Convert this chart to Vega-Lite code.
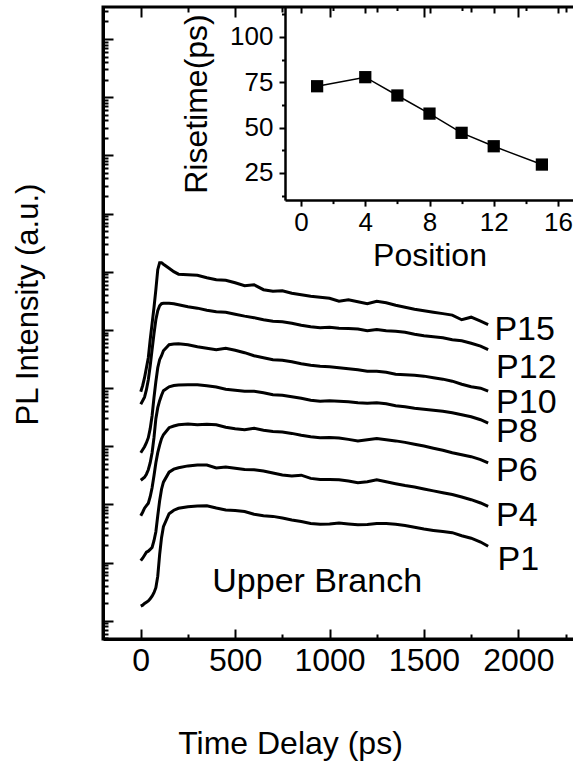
{
  "$schema": "https://vega.github.io/schema/vega-lite/v6.json",
  "width": 472,
  "height": 632,
  "autosize": {"type": "none"},
  "padding": {"left": 103, "top": 7, "right": 0, "bottom": 128},
  "background": "white",
  "config": {
    "view": {"stroke": "black", "strokeWidth": 3},
    "font": "Liberation Sans",
    "axis": {"grid": false, "domainColor": "black", "domainWidth": 3, "tickColor": "black", "tickWidth": 2, "labelColor": "black", "titleColor": "black", "labelFont": "Liberation Sans", "titleFont": "Liberation Sans", "titleFontWeight": "normal", "labelFlush": false, "labelOverlap": false}
  },
  "datasets": {
    "curves": [
      {"curve":"P15","time":0,"intensity":8650},{"curve":"P15","time":10,"intensity":10960},{"curve":"P15","time":20,"intensity":15040},{"curve":"P15","time":30,"intensity":22350},{"curve":"P15","time":40,"intensity":33200},{"curve":"P15","time":50,"intensity":67700},{"curve":"P15","time":60,"intensity":127600},{"curve":"P15","time":70,"intensity":240300},{"curve":"P15","time":80,"intensity":490000},{"curve":"P15","time":90,"intensity":1082000},{"curve":"P15","time":100,"intensity":1427000},{"curve":"P15","time":110,"intensity":1427000},{"curve":"P15","time":120,"intensity":1345000},{"curve":"P15","time":150,"intensity":1148000},{"curve":"P15","time":175,"intensity":999000},{"curve":"P15","time":200,"intensity":905000},{"curve":"P15","time":250,"intensity":887000},{"curve":"P15","time":300,"intensity":870000},{"curve":"P15","time":350,"intensity":788000},{"curve":"P15","time":400,"intensity":728000},{"curve":"P15","time":450,"intensity":714000},{"curve":"P15","time":500,"intensity":646000},{"curve":"P15","time":550,"intensity":574000},{"curve":"P15","time":600,"intensity":597000},{"curve":"P15","time":650,"intensity":490000},{"curve":"P15","time":700,"intensity":462000},{"curve":"P15","time":750,"intensity":471000},{"curve":"P15","time":800,"intensity":427000},{"curve":"P15","time":850,"intensity":402000},{"curve":"P15","time":900,"intensity":379000},{"curve":"P15","time":950,"intensity":364000},{"curve":"P15","time":1000,"intensity":350000},{"curve":"P15","time":1050,"intensity":311000},{"curve":"P15","time":1100,"intensity":330000},{"curve":"P15","time":1150,"intensity":305000},{"curve":"P15","time":1200,"intensity":282000},{"curve":"P15","time":1250,"intensity":311000},{"curve":"P15","time":1300,"intensity":293000},{"curve":"P15","time":1350,"intensity":265000},{"curve":"P15","time":1400,"intensity":245000},{"curve":"P15","time":1450,"intensity":226000},{"curve":"P15","time":1500,"intensity":213000},{"curve":"P15","time":1550,"intensity":201000},{"curve":"P15","time":1600,"intensity":190000},{"curve":"P15","time":1650,"intensity":179000},{"curve":"P15","time":1700,"intensity":149000},{"curve":"P15","time":1750,"intensity":165000},{"curve":"P15","time":1800,"intensity":141000},{"curve":"P15","time":1840,"intensity":123000},
      {"curve":"P12","time":0,"intensity":5270},{"curve":"P12","time":10,"intensity":6050},{"curve":"P12","time":20,"intensity":6950},{"curve":"P12","time":30,"intensity":9360},{"curve":"P12","time":40,"intensity":13900},{"curve":"P12","time":50,"intensity":24200},{"curve":"P12","time":60,"intensity":45600},{"curve":"P12","time":70,"intensity":85800},{"curve":"P12","time":80,"intensity":149400},{"curve":"P12","time":90,"intensity":213400},{"curve":"P12","time":100,"intensity":260000},{"curve":"P12","time":110,"intensity":281500},{"curve":"P12","time":120,"intensity":287000},{"curve":"P12","time":150,"intensity":287000},{"curve":"P12","time":175,"intensity":281500},{"curve":"P12","time":200,"intensity":271000},{"curve":"P12","time":250,"intensity":250000},{"curve":"P12","time":300,"intensity":236000},{"curve":"P12","time":350,"intensity":218000},{"curve":"P12","time":400,"intensity":205000},{"curve":"P12","time":450,"intensity":201000},{"curve":"P12","time":500,"intensity":186000},{"curve":"P12","time":550,"intensity":172000},{"curve":"P12","time":600,"intensity":162000},{"curve":"P12","time":650,"intensity":149400},{"curve":"P12","time":700,"intensity":141000},{"curve":"P12","time":750,"intensity":138000},{"curve":"P12","time":800,"intensity":130000},{"curve":"P12","time":850,"intensity":120000},{"curve":"P12","time":900,"intensity":113000},{"curve":"P12","time":950,"intensity":109000},{"curve":"P12","time":1000,"intensity":111000},{"curve":"P12","time":1050,"intensity":107000},{"curve":"P12","time":1100,"intensity":105000},{"curve":"P12","time":1150,"intensity":103000},{"curve":"P12","time":1200,"intensity":96700},{"curve":"P12","time":1250,"intensity":101000},{"curve":"P12","time":1300,"intensity":96700},{"curve":"P12","time":1350,"intensity":94800},{"curve":"P12","time":1400,"intensity":91100},{"curve":"P12","time":1450,"intensity":84200},{"curve":"P12","time":1500,"intensity":79300},{"curve":"P12","time":1550,"intensity":76200},{"curve":"P12","time":1600,"intensity":73300},{"curve":"P12","time":1650,"intensity":67700},{"curve":"P12","time":1700,"intensity":65100},{"curve":"P12","time":1750,"intensity":58900},{"curve":"P12","time":1800,"intensity":52400},{"curve":"P12","time":1840,"intensity":45600},
      {"curve":"P10","time":0,"intensity":773},{"curve":"P10","time":10,"intensity":870},{"curve":"P10","time":20,"intensity":980},{"curve":"P10","time":30,"intensity":1148},{"curve":"P10","time":40,"intensity":1400},{"curve":"P10","time":50,"intensity":2000},{"curve":"P10","time":60,"intensity":3340},{"curve":"P10","time":70,"intensity":6820},{"curve":"P10","time":80,"intensity":12840},{"curve":"P10","time":90,"intensity":22350},{"curve":"P10","time":100,"intensity":30700},{"curve":"P10","time":110,"intensity":35900},{"curve":"P10","time":120,"intensity":43800},{"curve":"P10","time":150,"intensity":55600},{"curve":"P10","time":175,"intensity":57100},{"curve":"P10","time":200,"intensity":57800},{"curve":"P10","time":250,"intensity":55600},{"curve":"P10","time":300,"intensity":51300},{"curve":"P10","time":350,"intensity":48400},{"curve":"P10","time":400,"intensity":45600},{"curve":"P10","time":450,"intensity":48400},{"curve":"P10","time":500,"intensity":44700},{"curve":"P10","time":550,"intensity":40500},{"curve":"P10","time":600,"intensity":35900},{"curve":"P10","time":650,"intensity":33200},{"curve":"P10","time":700,"intensity":30700},{"curve":"P10","time":750,"intensity":30100},{"curve":"P10","time":800,"intensity":28300},{"curve":"P10","time":850,"intensity":26200},{"curve":"P10","time":900,"intensity":24700},{"curve":"P10","time":950,"intensity":23700},{"curve":"P10","time":1000,"intensity":23200},{"curve":"P10","time":1050,"intensity":22350},{"curve":"P10","time":1100,"intensity":21500},{"curve":"P10","time":1150,"intensity":20600},{"curve":"P10","time":1200,"intensity":19500},{"curve":"P10","time":1250,"intensity":19500},{"curve":"P10","time":1300,"intensity":18700},{"curve":"P10","time":1350,"intensity":17300},{"curve":"P10","time":1400,"intensity":16900},{"curve":"P10","time":1450,"intensity":16600},{"curve":"P10","time":1500,"intensity":16000},{"curve":"P10","time":1550,"intensity":15040},{"curve":"P10","time":1600,"intensity":14200},{"curve":"P10","time":1650,"intensity":13100},{"curve":"P10","time":1700,"intensity":11600},{"curve":"P10","time":1750,"intensity":10500},{"curve":"P10","time":1800,"intensity":9930},{"curve":"P10","time":1840,"intensity":8820},
      {"curve":"P8","time":0,"intensity":260},{"curve":"P8","time":10,"intensity":276},{"curve":"P8","time":20,"intensity":293},{"curve":"P8","time":30,"intensity":330},{"curve":"P8","time":40,"intensity":394},{"curve":"P8","time":50,"intensity":520},{"curve":"P8","time":60,"intensity":773},{"curve":"P8","time":70,"intensity":1400},{"curve":"P8","time":80,"intensity":2970},{"curve":"P8","time":90,"intensity":4590},{"curve":"P8","time":100,"intensity":6050},{"curve":"P8","time":110,"intensity":7530},{"curve":"P8","time":120,"intensity":8990},{"curve":"P8","time":150,"intensity":10500},{"curve":"P8","time":175,"intensity":11050},{"curve":"P8","time":200,"intensity":11310},{"curve":"P8","time":250,"intensity":11410},{"curve":"P8","time":300,"intensity":11410},{"curve":"P8","time":350,"intensity":10960},{"curve":"P8","time":400,"intensity":10410},{"curve":"P8","time":450,"intensity":9540},{"curve":"P8","time":500,"intensity":9170},{"curve":"P8","time":550,"intensity":8820},{"curve":"P8","time":600,"intensity":8820},{"curve":"P8","time":650,"intensity":8310},{"curve":"P8","time":700,"intensity":7680},{"curve":"P8","time":750,"intensity":7530},{"curve":"P8","time":800,"intensity":7090},{"curve":"P8","time":850,"intensity":6680},{"curve":"P8","time":900,"intensity":6170},{"curve":"P8","time":950,"intensity":5930},{"curve":"P8","time":1000,"intensity":6050},{"curve":"P8","time":1050,"intensity":5930},{"curve":"P8","time":1100,"intensity":5820},{"curve":"P8","time":1150,"intensity":5590},{"curve":"P8","time":1200,"intensity":5480},{"curve":"P8","time":1250,"intensity":5590},{"curve":"P8","time":1300,"intensity":5380},{"curve":"P8","time":1350,"intensity":4970},{"curve":"P8","time":1400,"intensity":4770},{"curve":"P8","time":1450,"intensity":4500},{"curve":"P8","time":1500,"intensity":4320},{"curve":"P8","time":1550,"intensity":4160},{"curve":"P8","time":1600,"intensity":4000},{"curve":"P8","time":1650,"intensity":3760},{"curve":"P8","time":1700,"intensity":3480},{"curve":"P8","time":1750,"intensity":3210},{"curve":"P8","time":1800,"intensity":2850},{"curve":"P8","time":1840,"intensity":2490},
      {"curve":"P6","time":0,"intensity":63.8},{"curve":"P6","time":10,"intensity":73.3},{"curve":"P6","time":20,"intensity":85.9},{"curve":"P6","time":30,"intensity":94.8},{"curve":"P6","time":40,"intensity":104.7},{"curve":"P6","time":50,"intensity":135.4},{"curve":"P6","time":60,"intensity":193.4},{"curve":"P6","time":70,"intensity":311},{"curve":"P6","time":80,"intensity":520},{"curve":"P6","time":90,"intensity":773},{"curve":"P6","time":100,"intensity":1040},{"curve":"P6","time":110,"intensity":1345},{"curve":"P6","time":120,"intensity":1576},{"curve":"P6","time":150,"intensity":2079},{"curve":"P6","time":175,"intensity":2224},{"curve":"P6","time":200,"intensity":2341},{"curve":"P6","time":250,"intensity":2407},{"curve":"P6","time":300,"intensity":2341},{"curve":"P6","time":350,"intensity":2378},{"curve":"P6","time":400,"intensity":2341},{"curve":"P6","time":450,"intensity":2121},{"curve":"P6","time":500,"intensity":2000},{"curve":"P6","time":550,"intensity":1921},{"curve":"P6","time":600,"intensity":2038},{"curve":"P6","time":650,"intensity":1883},{"curve":"P6","time":700,"intensity":1796},{"curve":"P6","time":750,"intensity":1754},{"curve":"P6","time":800,"intensity":1659},{"curve":"P6","time":850,"intensity":1545},{"curve":"P6","time":900,"intensity":1456},{"curve":"P6","time":950,"intensity":1400},{"curve":"P6","time":1000,"intensity":1411},{"curve":"P6","time":1050,"intensity":1383},{"curve":"P6","time":1100,"intensity":1309},{"curve":"P6","time":1150,"intensity":1228},{"curve":"P6","time":1200,"intensity":1293},{"curve":"P6","time":1250,"intensity":1356},{"curve":"P6","time":1300,"intensity":1293},{"curve":"P6","time":1350,"intensity":1233},{"curve":"P6","time":1400,"intensity":1162},{"curve":"P6","time":1450,"intensity":1082},{"curve":"P6","time":1500,"intensity":1008},{"curve":"P6","time":1550,"intensity":923.5},{"curve":"P6","time":1600,"intensity":853},{"curve":"P6","time":1650,"intensity":773},{"curve":"P6","time":1700,"intensity":714},{"curve":"P6","time":1750,"intensity":660},{"curve":"P6","time":1800,"intensity":586},{"curve":"P6","time":1840,"intensity":514},
      {"curve":"P4","time":0,"intensity":10.75},{"curve":"P4","time":10,"intensity":11.87},{"curve":"P4","time":20,"intensity":13.37},{"curve":"P4","time":30,"intensity":15.05},{"curve":"P4","time":40,"intensity":15.66},{"curve":"P4","time":50,"intensity":16.81},{"curve":"P4","time":60,"intensity":18.13},{"curve":"P4","time":70,"intensity":23.73},{"curve":"P4","time":80,"intensity":33.88},{"curve":"P4","time":90,"intensity":63.8},{"curve":"P4","time":100,"intensity":115.6},{"curve":"P4","time":110,"intensity":182.2},{"curve":"P4","time":120,"intensity":240.4},{"curve":"P4","time":150,"intensity":357.2},{"curve":"P4","time":175,"intensity":402.2},{"curve":"P4","time":200,"intensity":426.7},{"curve":"P4","time":250,"intensity":458.3},{"curve":"P4","time":300,"intensity":476.8},{"curve":"P4","time":350,"intensity":474.9},{"curve":"P4","time":400,"intensity":423.4},{"curve":"P4","time":450,"intensity":438.8},{"curve":"P4","time":500,"intensity":416.8},{"curve":"P4","time":550,"intensity":397.5},{"curve":"P4","time":600,"intensity":394.3},{"curve":"P4","time":650,"intensity":374.5},{"curve":"P4","time":700,"intensity":346},{"curve":"P4","time":750,"intensity":319.7},{"curve":"P4","time":800,"intensity":307.3},{"curve":"P4","time":850,"intensity":317.2},{"curve":"P4","time":900,"intensity":279.4},{"curve":"P4","time":950,"intensity":268.6},{"curve":"P4","time":1000,"intensity":267.5},{"curve":"P4","time":1050,"intensity":265.4},{"curve":"P4","time":1100,"intensity":252.1},{"curve":"P4","time":1150,"intensity":235.7},{"curve":"P4","time":1200,"intensity":245.2},{"curve":"P4","time":1250,"intensity":265.4},{"curve":"P4","time":1300,"intensity":245.2},{"curve":"P4","time":1350,"intensity":226.6},{"curve":"P4","time":1400,"intensity":211},{"curve":"P4","time":1450,"intensity":198.8},{"curve":"P4","time":1500,"intensity":183.7},{"curve":"P4","time":1550,"intensity":170.4},{"curve":"P4","time":1600,"intensity":158.6},{"curve":"P4","time":1650,"intensity":147.7},{"curve":"P4","time":1700,"intensity":133.8},{"curve":"P4","time":1750,"intensity":120.2},{"curve":"P4","time":1800,"intensity":105.5},{"curve":"P4","time":1840,"intensity":92.2},
      {"curve":"P1","time":0,"intensity":1.775},{"curve":"P1","time":10,"intensity":1.847},{"curve":"P1","time":20,"intensity":1.976},{"curve":"P1","time":30,"intensity":2.08},{"curve":"P1","time":40,"intensity":2.19},{"curve":"P1","time":50,"intensity":2.389},{"curve":"P1","time":60,"intensity":2.637},{"curve":"P1","time":70,"intensity":3.029},{"curve":"P1","time":80,"intensity":3.692},{"curve":"P1","time":90,"intensity":5.821},{"curve":"P1","time":100,"intensity":13.63},{"curve":"P1","time":110,"intensity":26.72},{"curve":"P1","time":120,"intensity":41.3},{"curve":"P1","time":150,"intensity":69.09},{"curve":"P1","time":175,"intensity":79.35},{"curve":"P1","time":200,"intensity":85.56},{"curve":"P1","time":250,"intensity":91.16},{"curve":"P1","time":300,"intensity":94.08},{"curve":"P1","time":350,"intensity":94.84},{"curve":"P1","time":400,"intensity":86.57},{"curve":"P1","time":450,"intensity":79.98},{"curve":"P1","time":500,"intensity":78.74},{"curve":"P1","time":550,"intensity":75.39},{"curve":"P1","time":600,"intensity":67.72},{"curve":"P1","time":650,"intensity":63.84},{"curve":"P1","time":700,"intensity":62.09},{"curve":"P1","time":750,"intensity":58.27},{"curve":"P1","time":800,"intensity":53.84},{"curve":"P1","time":850,"intensity":50.74},{"curve":"P1","time":900,"intensity":47.06},{"curve":"P1","time":950,"intensity":45.59},{"curve":"P1","time":1000,"intensity":45.96},{"curve":"P1","time":1050,"intensity":47.62},{"curve":"P1","time":1100,"intensity":45.96},{"curve":"P1","time":1150,"intensity":44.69},{"curve":"P1","time":1200,"intensity":45.23},{"curve":"P1","time":1250,"intensity":46.88},{"curve":"P1","time":1300,"intensity":46.88},{"curve":"P1","time":1350,"intensity":45.41},{"curve":"P1","time":1400,"intensity":43.31},{"curve":"P1","time":1450,"intensity":40.33},{"curve":"P1","time":1500,"intensity":37.55},{"curve":"P1","time":1550,"intensity":35.67},{"curve":"P1","time":1600,"intensity":34.15},{"curve":"P1","time":1650,"intensity":32.57},{"curve":"P1","time":1700,"intensity":28.92},{"curve":"P1","time":1750,"intensity":26.2},{"curve":"P1","time":1800,"intensity":22.54},{"curve":"P1","time":1840,"intensity":19.08}
    ],
    "labels": [
      {"time":1873,"intensity":67700,"label":"P15"},
      {"time":1882,"intensity":15040,"label":"P12"},
      {"time":1882,"intensity":3764,"label":"P10"},
      {"time":1882,"intensity":1194,"label":"P8"},
      {"time":1882,"intensity":255,"label":"P6"},
      {"time":1882,"intensity":43,"label":"P4"},
      {"time":1890,"intensity":7.53,"label":"P1"},
      {"time":379,"intensity":3.15,"label":"Upper Branch"}
    ],
    "rise": [
      {"position":1,"risetime":72.8},
      {"position":4,"risetime":77.8},
      {"position":6,"risetime":67.7},
      {"position":8,"risetime":57.7},
      {"position":10,"risetime":47.1},
      {"position":12,"risetime":39.7},
      {"position":15,"risetime":29.6}
    ]
  },
  "layer": [
    {
      "layer": [
        {
          "data": {"name": "curves"},
          "mark": {"type": "line", "color": "black", "strokeWidth": 3},
          "encoding": {
            "x": {"field": "time", "type": "quantitative",
              "scale": {"domain": [-200, 2300], "nice": false, "zero": false},
              "axis": {"orient": "bottom", "values": [0,250,500,750,1000,1250,1500,1750,2000,2250], "format": "d",
                "labelExpr": "datum.value % 500 === 0 ? datum.label : ''",
                "tickSize": {"condition": {"test": "datum.value % 500 === 0", "value": -10}, "value": -5},
                "labelFontSize": 32, "labelPadding": 16,
                "title": "Time Delay (ps)", "titleFontSize": 32, "titleX": 187, "titlePadding": 47}},
            "y": {"field": "intensity", "type": "quantitative",
              "scale": {"type": "log", "domain": [0.4845, 3.548e10], "nice": false},
              "axis": {"orient": "left",
                "values": [0.5,0.6,0.7,0.8,0.9,1,2,3,4,5,6,7,8,9,10,20,30,40,50,60,70,80,90,100,200,300,400,500,600,700,800,900,1000,2000,3000,4000,5000,6000,7000,8000,9000,1e4,2e4,3e4,4e4,5e4,6e4,7e4,8e4,9e4,1e5,2e5,3e5,4e5,5e5,6e5,7e5,8e5,9e5,1e6,2e6,3e6,4e6,5e6,6e6,7e6,8e6,9e6,1e7,2e7,3e7,4e7,5e7,6e7,7e7,8e7,9e7,1e8,2e8,3e8,4e8,5e8,6e8,7e8,8e8,9e8,1e9,2e9,3e9,4e9,5e9,6e9,7e9,8e9,9e9,1e10,2e10,3e10],
                "labels": false,
                "tickSize": {"condition": {"test": "abs(log(datum.value)/LN10 - round(log(datum.value)/LN10)) < 0.001", "value": -10}, "value": -5},
                "title": "PL Intensity (a.u.)", "titleFontSize": 31, "titlePadding": 58, "titleY": 297}},
            "detail": {"field": "curve", "type": "nominal"}
          }
        },
        {
          "data": {"name": "labels"},
          "mark": {"type": "text", "align": "left", "baseline": "alphabetic", "fontSize": 34, "color": "black", "font": "Liberation Sans"},
          "encoding": {
            "x": {"field": "time", "type": "quantitative",
              "scale": {"domain": [-200, 2300], "nice": false, "zero": false},
              "axis": {"orient": "top", "values": [0,250,500,750,1000,1250,1500,1750,2000,2250], "labels": false, "domain": false, "title": null,
                "tickSize": {"condition": {"test": "datum.value % 500 === 0", "value": -10}, "value": -5}}},
            "y": {"field": "intensity", "type": "quantitative",
              "scale": {"type": "log", "domain": [0.4845, 3.548e10], "nice": false},
              "axis": null},
            "text": {"field": "label"}
          }
        }
      ],
      "resolve": {"axis": {"x": "independent", "y": "independent"}}
    },
    {
      "data": {"name": "rise"},
      "layer": [
        {
          "mark": {"type": "line", "color": "black", "strokeWidth": 1.5},
          "encoding": {
            "x": {"field": "position", "type": "quantitative",
              "scale": {"domain": [-1, 17], "range": [182, 471], "nice": false, "zero": false},
              "axis": {"orient": "bottom", "offset": -438.9, "values": [0,2,4,6,8,10,12,14,16],
                "labelExpr": "datum.value % 4 === 0 ? datum.label : ''",
                "tickSize": {"condition": {"test": "datum.value % 4 === 0", "value": 6}, "value": 3.5},
                "labelFontSize": 26, "labelPadding": 3, "domainWidth": 2.5,
                "title": "Position", "titleFontSize": 32, "titlePadding": 5}},
            "y": {"field": "risetime", "type": "quantitative",
              "scale": {"domain": [10, 116.5], "range": [193.1, 0], "nice": false, "zero": false},
              "axis": {"orient": "left", "offset": -182, "values": [12.5,25,37.5,50,62.5,75,87.5,100,112.5],
                "labelExpr": "datum.value % 25 === 0 ? datum.label : ''",
                "tickSize": {"condition": {"test": "datum.value % 25 === 0", "value": 6}, "value": 3.5},
                "labelFontSize": 26, "labelPadding": 6, "domainWidth": 2.5,
                "title": "Risetime(ps)", "titleFontSize": 32, "titlePadding": 16}}
          }
        },
        {
          "mark": {"type": "point", "shape": "square", "filled": true, "size": 150, "color": "black", "opacity": 1},
          "encoding": {
            "x": {"field": "position", "type": "quantitative",
              "scale": {"domain": [-1, 17], "range": [182, 471], "nice": false, "zero": false},
              "axis": {"orient": "top", "values": [0,2,4,6,8,10,12,14,16], "labels": false, "domain": false, "title": null,
                "tickSize": {"condition": {"test": "datum.value % 4 === 0", "value": -6}, "value": -3.5}}},
            "y": {"field": "risetime", "type": "quantitative",
              "scale": {"domain": [10, 116.5], "range": [193.1, 0], "nice": false, "zero": false},
              "axis": null}
          }
        }
      ],
      "resolve": {"axis": {"x": "independent", "y": "independent"}}
    }
  ],
  "resolve": {"scale": {"x": "independent", "y": "independent"}}
}
